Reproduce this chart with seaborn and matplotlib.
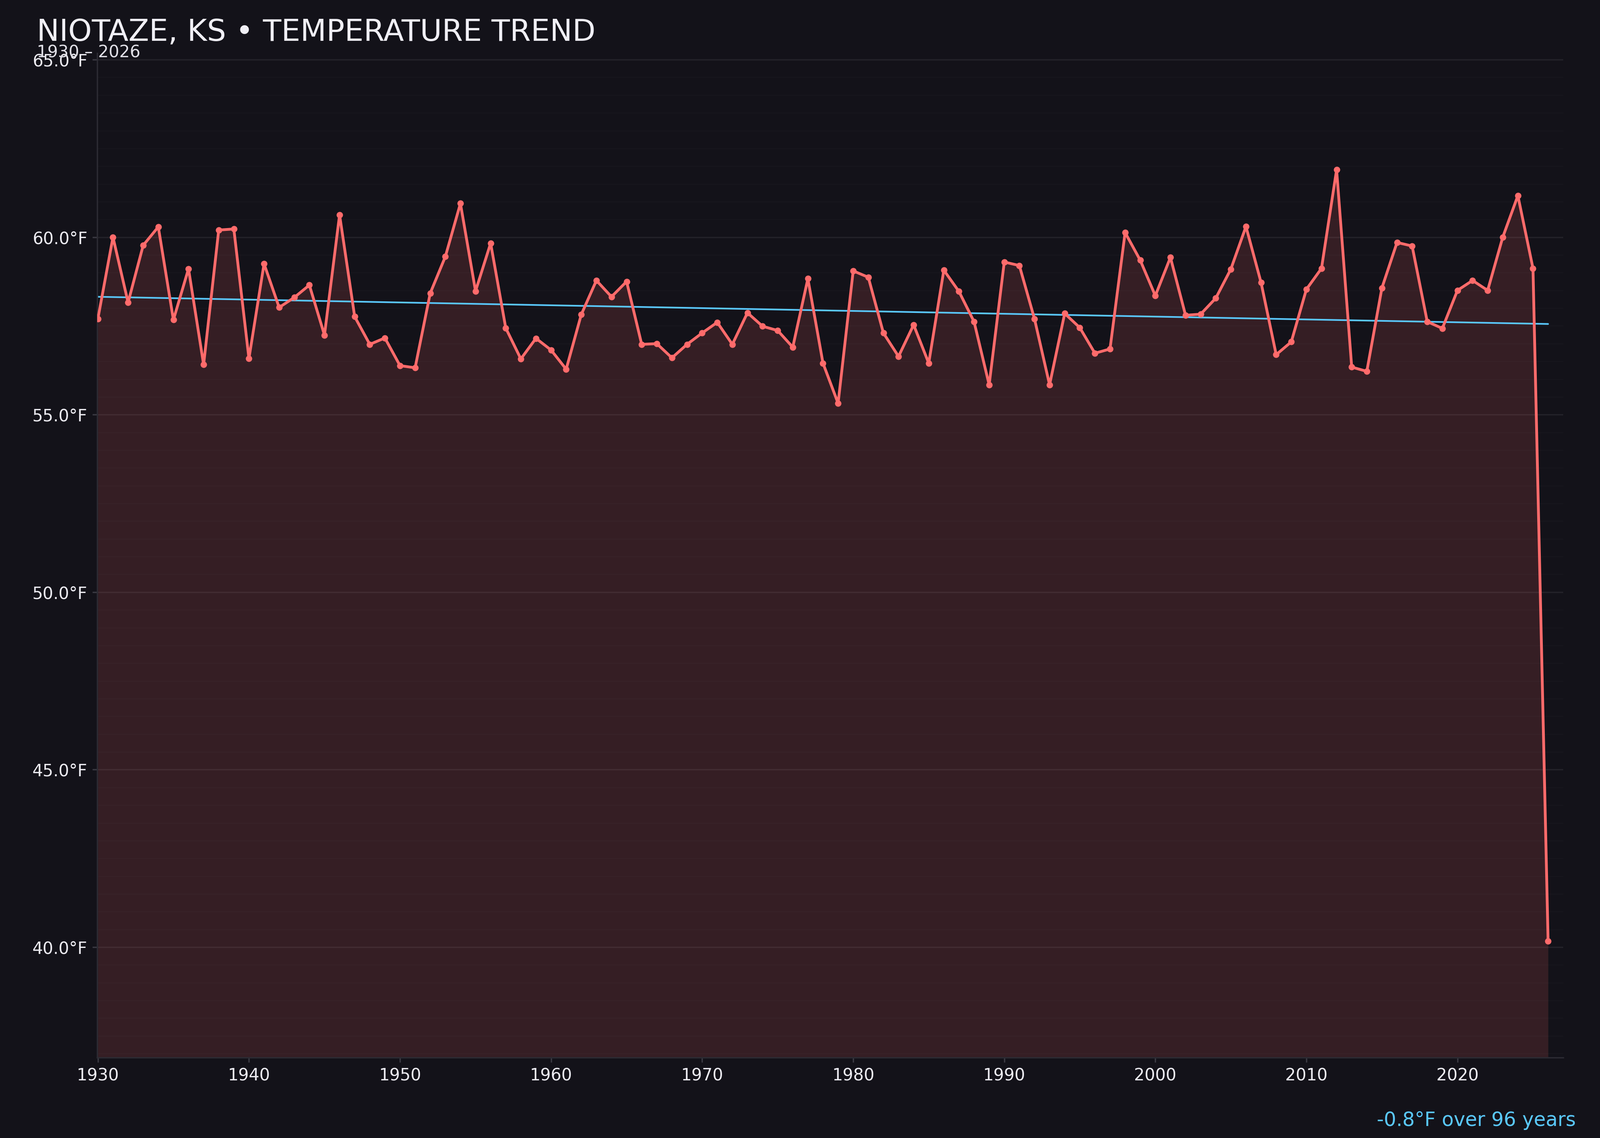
import numpy as np
import pandas as pd
import seaborn as sns
from matplotlib import pyplot as plt
from matplotlib.ticker import MultipleLocator, FuncFormatter

# annual mean temperature
years = list(range(1930, 2027))
temps = [
    57.70, 60.00, 58.16, 59.77, 60.29, 57.67, 59.11, 56.41, 60.20, 60.23,  # 1930s
    56.58, 59.25, 58.02, 58.30, 58.65, 57.24, 60.63, 57.76, 56.98, 57.16,  # 1940s
    56.38, 56.32, 58.42, 59.45, 60.95, 58.48, 59.83, 57.44, 56.57, 57.15,  # 1950s
    56.82, 56.28, 57.82, 58.78, 58.32, 58.75, 56.98, 57.00, 56.60, 56.98,  # 1960s
    57.30, 57.60, 56.98, 57.87, 57.49, 57.37, 56.90, 58.83, 56.45, 55.32,  # 1970s
    59.05, 58.87, 57.30, 56.64, 57.53, 56.45, 59.07, 58.47, 57.62, 55.84,  # 1980s
    59.30, 59.20, 57.70, 55.84, 57.85, 57.45, 56.73, 56.85, 60.13, 59.35,  # 1990s
    58.35, 59.43, 57.80, 57.83, 58.28, 59.10, 60.30, 58.72, 56.69, 57.05,  # 2000s
    58.53, 59.12, 61.90, 56.34, 56.22, 58.57, 59.85, 59.75, 57.62, 57.43,  # 2010s
    58.50, 58.78, 58.50, 60.00, 61.17, 59.12, 40.17,                       # 2020s
]
title = "NIOTAZE, KS \u2022 TEMPERATURE TREND"
subtitle = "1930 \u2013 2026"

df = pd.DataFrame({"year": years, "temp": temps})

BG = "#131219"
LINE = "#ff6b6b"
TREND = "#5ac8fa"
TXT = "#ecebf1"

sns.set_theme(style="dark", rc={
    "figure.facecolor": BG,
    "axes.facecolor": BG,
    "axes.edgecolor": "#2c2b33",
    "axes.linewidth": 1.0,
    "xtick.color": "#3a3942",
    "ytick.color": "#3a3942",
    "xtick.labelcolor": TXT,
    "ytick.labelcolor": TXT,
    "xtick.bottom": True,
    "ytick.left": True,
    "text.color": TXT,
})
plt.rcParams["font.family"] = ["DejaVu Sans"]

fig = plt.figure(figsize=(16, 11.376), dpi=250)
ax = fig.add_axes([0.0607, 0.0707, 0.9163, 0.8825])

lo = min(temps) - 3.28
hi = max(temps) + 3.28

# shaded area under the series
ax.fill_between(df["year"], df["temp"], lo, color=LINE, alpha=0.145, lw=0, zorder=1)

sns.lineplot(data=df, x="year", y="temp", ax=ax, color=LINE, lw=2.0,
             marker="o", markersize=4.6, markeredgewidth=0, zorder=3)

# least squares trend over the whole record
sns.regplot(data=df, x="year", y="temp", ax=ax, scatter=False, ci=None,
            truncate=True, line_kws={"color": TREND, "lw": 1.2, "zorder": 2})
slope, icpt = np.polyfit(df["year"], df["temp"], 1)
span = years[-1] - years[0]
change = slope * span

ax.set_xlim(years[0] - 0.05, years[-1] + 1)
ax.set_ylim(lo, hi)
ax.xaxis.set_major_locator(MultipleLocator(10))
ax.yaxis.set_major_locator(MultipleLocator(5))
ax.yaxis.set_minor_locator(MultipleLocator(0.5))
ax.yaxis.set_major_formatter(FuncFormatter(lambda v, p: f"{v:.1f}\u00b0F"))
ax.tick_params(axis="both", labelsize=12, length=3.5, width=1.0)
ax.tick_params(axis="y", which="minor", length=0)
ax.grid(True, which="major", axis="y", color="#232229", lw=1.0)
ax.grid(True, which="minor", axis="y", color="#17161d", lw=0.8)
ax.grid(False, axis="x")
ax.set_axisbelow(True)
ax.set_xlabel("")
ax.set_ylabel("")
for s in ["top", "right"]:
    ax.spines[s].set_visible(False)

fig.text(0.023, 0.964, title, fontsize=21.7, color="#f0eff5", va="baseline", ha="left")
fig.text(0.023, 0.9497, subtitle, fontsize=12, color="#e0dfe6", va="baseline", ha="left")
fig.text(0.985, 0.0105, f"{change:.1f}\u00b0F over {span} years", fontsize=14,
         color=TREND, va="baseline", ha="right")

fig.savefig("out.png", dpi=250, facecolor=BG)
